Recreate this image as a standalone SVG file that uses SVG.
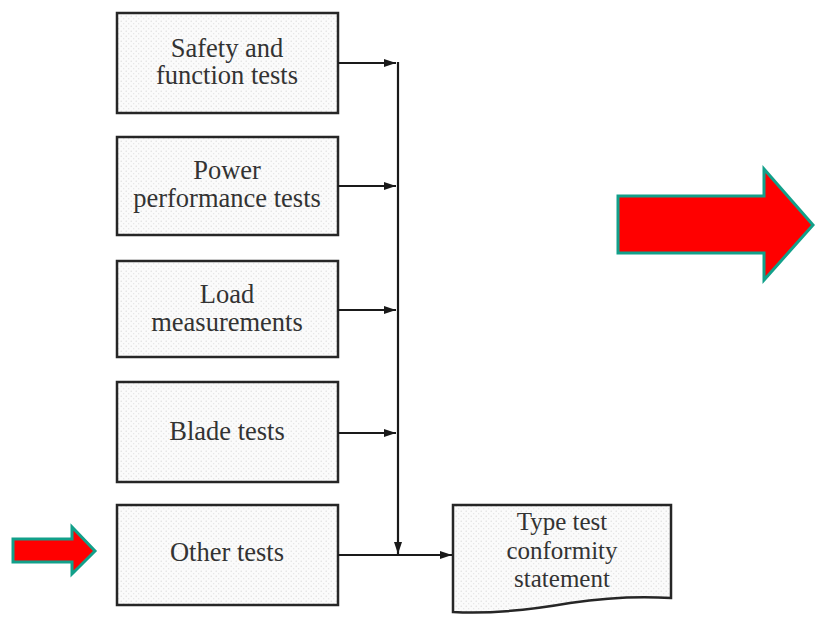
<svg xmlns="http://www.w3.org/2000/svg" width="816" height="619" viewBox="0 0 816 619">
  <style>
    .box { fill: url(#stipple); stroke: #262626; stroke-width: 2.5; }
    .lbl { font-family: "Liberation Serif", "Times New Roman", serif; font-size: 26.5px; fill: #333333; text-anchor: middle; }
    .doc { font-size: 25px; }
    .wire { stroke: #1a1a1a; stroke-width: 2.2; fill: none; }
    .big { fill: #ff0000; stroke: #12a08a; stroke-width: 3; stroke-linejoin: miter; }
  </style>
  <defs>
    <pattern id="stipple" width="5" height="5" patternUnits="userSpaceOnUse">
      <rect width="5" height="5" fill="#fbfbfb"/>
      <circle cx="1.2" cy="1.2" r="0.6" fill="#d6d6d6"/>
      <circle cx="3.7" cy="3.7" r="0.6" fill="#e0e0e0"/>
    </pattern>
    <marker id="head" viewBox="0 0 12 10" refX="12" refY="5" markerWidth="12" markerHeight="10" markerUnits="userSpaceOnUse" orient="auto">
      <path d="M0,1 L12,5 L0,9 Z" fill="#1a1a1a"/>
    </marker>
  </defs>

  <rect width="816" height="619" fill="#ffffff"/>

  <g id="safety">
    <rect class="box" x="117" y="13" width="221" height="100"/>
    <text class="lbl" x="227" y="57">Safety and</text>
    <text class="lbl" x="227" y="84">function tests</text>
  </g>
  <g id="power">
    <rect class="box" x="117" y="137" width="221" height="98"/>
    <text class="lbl" x="227" y="179">Power</text>
    <text class="lbl" x="227" y="207">performance tests</text>
  </g>
  <g id="load">
    <rect class="box" x="117" y="261" width="221" height="96"/>
    <text class="lbl" x="227" y="303">Load</text>
    <text class="lbl" x="227" y="331">measurements</text>
  </g>
  <g id="blade">
    <rect class="box" x="117" y="382" width="221" height="100"/>
    <text class="lbl" x="227" y="440">Blade tests</text>
  </g>
  <g id="other">
    <rect class="box" x="117" y="505" width="221" height="100"/>
    <text class="lbl" x="227" y="561">Other tests</text>
  </g>
  <g id="statement">
    <path class="box" d="M453,505 L671,505 L671,598 C640,596 610,597 570,603 C530,610 490,614 453,612 Z"/>
    <text class="lbl doc" x="562" y="530">Type test</text>
    <text class="lbl doc" x="562" y="558.5">conformity</text>
    <text class="lbl doc" x="562" y="587">statement</text>
  </g>

  <g id="connectors">
    <line class="wire" x1="338" y1="63" x2="396" y2="63" marker-end="url(#head)"/>
    <line class="wire" x1="338" y1="186" x2="396" y2="186" marker-end="url(#head)"/>
    <line class="wire" x1="338" y1="310" x2="396" y2="310" marker-end="url(#head)"/>
    <line class="wire" x1="338" y1="433" x2="396" y2="433" marker-end="url(#head)"/>
    <line class="wire" x1="398" y1="62" x2="398" y2="554" marker-end="url(#head)"/>
    <line class="wire" x1="338" y1="555" x2="452" y2="555" marker-end="url(#head)"/>
  </g>

  <g id="pointer-large">
    <path class="big" d="M618,196 L764,196 L764,169 L813,225 L764,280 L764,253 L618,253 Z"/>
  </g>
  <g id="pointer-small">
    <path class="big" d="M13,539 L72,539 L72,527 L95,551 L72,574 L72,562 L13,562 Z"/>
  </g>
</svg>
